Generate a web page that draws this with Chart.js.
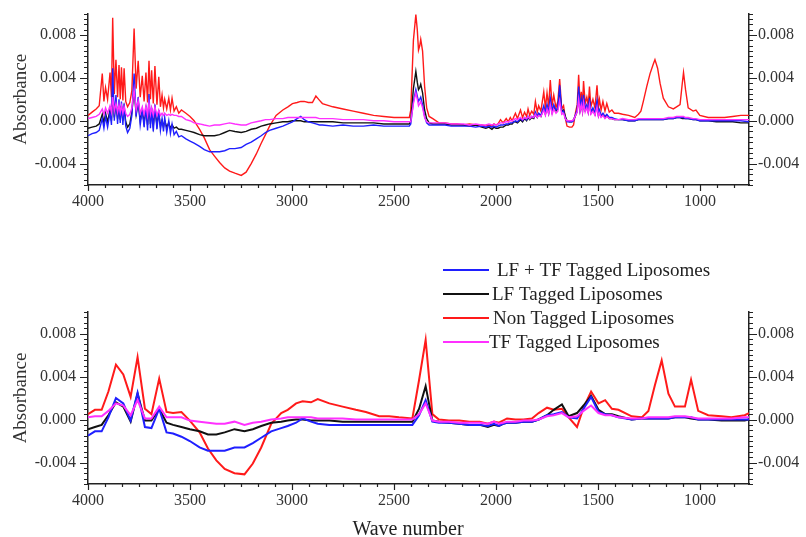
<!DOCTYPE html>
<html>
<head>
<meta charset="utf-8">
<script src="https://cdn.jsdelivr.net/npm/chart.js@4.4.1/dist/chart.umd.min.js"></script>
<style>
  body { margin: 0; background: #fff; }
  .panel { position: absolute; left: 0; width: 806px; }
  #topPanel { top: 0; height: 240px; }
  #bottomPanel { top: 250px; height: 287px; }
</style>
</head>
<body>
<div class="panel" id="topPanel"><canvas id="topChart"></canvas></div>
<div class="panel" id="bottomPanel"><canvas id="bottomChart"></canvas></div>
<script>
// Spectra (full resolution) - wave numbers in cm-1
const topWave = [
  4000, 3980,
  3960, 3945, 3930, 3922, 3914, 3904, 3892, 3885, 3879, 3871, 3863, 3855, 3848, 3842, 3836, 3829, 3823, 3815, 3806, 3795,
  3785, 3774, 3764, 3754, 3744, 3734, 3725, 3716, 3708, 3701, 3694, 3688, 3680, 3672, 3662, 3653, 3645, 3637, 3630, 3624,
  3614, 3604, 3596, 3588, 3578, 3567, 3555, 3542,
  3520, 3500, 3480, 3453, 3430, 3404, 3380, 3355, 3330, 3306, 3280, 3249, 3225, 3200, 3175, 3151, 3130, 3110, 3078, 3045,
  3020, 2998, 2975, 2957, 2940, 2920, 2900, 2883, 2865, 2851, 2800, 2750, 2700, 2650, 2600, 2550, 2500, 2450, 2425,
  2418, 2405, 2393, 2386, 2380, 2374, 2369, 2360, 2350, 2340, 2328, 2310,
  2280, 2250, 2220, 2190, 2160, 2130, 2100, 2070, 2050, 2035, 2020, 2010, 2000,
  1990, 1978, 1965, 1950, 1940, 1930, 1921, 1912, 1905, 1895, 1880, 1870, 1860, 1850, 1843, 1835, 1825, 1815, 1807, 1798,
  1791, 1780, 1766, 1758, 1750, 1742, 1734, 1725, 1717, 1706, 1697, 1688, 1678, 1669, 1660, 1652, 1640, 1628, 1620, 1610,
  1602, 1595, 1588, 1582, 1576, 1571, 1563, 1555, 1548, 1542, 1535, 1525, 1515, 1505, 1498, 1493, 1485, 1476, 1466, 1457,
  1445, 1432, 1420, 1400,
  1380, 1350, 1320, 1302, 1290, 1278, 1261, 1245, 1229, 1221, 1208, 1196, 1180, 1155, 1131, 1115, 1098, 1087, 1081, 1071,
  1058, 1034, 1020, 1001, 960, 920, 880, 840, 800, 760
];

const topLfTf = [
  -0.0014, -0.0012,
  -0.0011, -0.0009, 0.0002, -0.0007, 0.0004, -0.0006, 0.0008, -0.0004, 0.0049, 0.0000, 0.0024, -0.0003, 0.0020, -0.0002, 0.0018, -0.0004, 0.0016, -0.0005, -0.0011, -0.0007,
  0.0005, 0.0044, 0.0004, 0.0022, -0.0004, 0.0010, -0.0006, 0.0014, -0.0009, 0.0025, -0.0007, 0.0012, -0.0010, 0.0015, -0.0008, 0.0010, -0.0009, 0.0002, -0.0010, 0.0003,
  -0.0011, 0.0000, -0.0012, -0.0003, -0.0013, -0.0010, -0.0015, -0.0014,
  -0.0017, -0.0019, -0.0021, -0.0024, -0.0027, -0.0029, -0.0029, -0.0029, -0.0028, -0.0026, -0.0026, -0.0025, -0.0022, -0.0020, -0.0017, -0.0014, -0.0011, -0.0009, -0.0007, -0.0005,
  -0.0003, -0.0001, 0.0002, 0.0004, 0.0001, -0.0001, -0.0002, -0.0003, -0.0004, -0.0004, -0.0005, -0.0004, -0.0005, -0.0005, -0.0004, -0.0005, -0.0005, -0.0005, -0.0005,
  -0.0003, 0.0018, 0.0029, 0.0023, 0.0018, 0.0020, 0.0022, 0.0015, 0.0004, -0.0002, -0.0004, -0.0004,
  -0.0004, -0.0004, -0.0005, -0.0005, -0.0005, -0.0005, -0.0006, -0.0005, -0.0006, -0.0005, -0.0006, -0.0005, -0.0006,
  -0.0005, -0.0004, -0.0004, -0.0003, -0.0003, -0.0002, -0.0002, -0.0001, 0.0000, -0.0001, 0.0002, 0.0000, 0.0003, 0.0001, 0.0004, 0.0002, 0.0004, 0.0003, 0.0008, 0.0004,
  0.0007, 0.0005, 0.0014, 0.0007, 0.0015, 0.0008, 0.0021, 0.0009, 0.0015, 0.0010, 0.0012, 0.0033, 0.0008, 0.0009, 0.0002, -0.0001, -0.0001, -0.0001, 0.0000, 0.0006,
  0.0010, 0.0032, 0.0012, 0.0020, 0.0010, 0.0024, 0.0011, 0.0015, 0.0009, 0.0021, 0.0008, 0.0012, 0.0007, 0.0019, 0.0006, 0.0010, 0.0005, 0.0007, 0.0004, 0.0006,
  0.0003, 0.0003, 0.0002, 0.0001,
  0.0001, 0.0000, 0.0000, 0.0001, 0.0001, 0.0001, 0.0001, 0.0001, 0.0001, 0.0001, 0.0001, 0.0001, 0.0001, 0.0002, 0.0002, 0.0003, 0.0003, 0.0003, 0.0003, 0.0002,
  0.0002, 0.0001, 0.0001, 0.0000, 0.0000, 0.0000, 0.0000, 0.0000, 0.0000, -0.0001
];

const topLf = [
  -0.0007, -0.0006,
  -0.0005, -0.0003, 0.0006, -0.0002, 0.0007, -0.0001, 0.0010, 0.0000, 0.0030, 0.0003, 0.0018, 0.0002, 0.0015, 0.0001, 0.0014, 0.0000, 0.0012, -0.0001, -0.0006, -0.0003,
  0.0008, 0.0030, 0.0006, 0.0018, 0.0000, 0.0009, -0.0002, 0.0011, -0.0004, 0.0018, -0.0003, 0.0009, -0.0005, 0.0011, -0.0004, 0.0007, -0.0005, 0.0000, -0.0006, 0.0000,
  -0.0006, -0.0002, -0.0007, -0.0004, -0.0007, -0.0006, -0.0008, -0.0008,
  -0.0009, -0.0010, -0.0011, -0.0013, -0.0014, -0.0014, -0.0014, -0.0013, -0.0011, -0.0009, -0.0010, -0.0011, -0.0010, -0.0008, -0.0007, -0.0005, -0.0004, -0.0003, -0.0002, -0.0001,
  -0.0001, 0.0000, 0.0000, 0.0000, -0.0001, -0.0001, -0.0001, -0.0001, -0.0001, -0.0001, -0.0001, -0.0002, -0.0002, -0.0002, -0.0002, -0.0003, -0.0003, -0.0003, -0.0003,
  0.0000, 0.0030, 0.0046, 0.0036, 0.0029, 0.0031, 0.0034, 0.0026, 0.0010, 0.0002, -0.0002, -0.0003,
  -0.0003, -0.0003, -0.0004, -0.0004, -0.0004, -0.0005, -0.0004, -0.0006, -0.0007, -0.0006, -0.0008, -0.0006, -0.0007,
  -0.0007, -0.0006, -0.0006, -0.0004, -0.0004, -0.0003, -0.0003, -0.0001, -0.0001, -0.0002, 0.0001, -0.0001, 0.0002, 0.0000, 0.0003, 0.0001, 0.0003, 0.0002, 0.0006, 0.0003,
  0.0006, 0.0004, 0.0012, 0.0006, 0.0013, 0.0007, 0.0018, 0.0008, 0.0013, 0.0009, 0.0011, 0.0028, 0.0009, 0.0010, 0.0004, 0.0000, -0.0001, -0.0001, 0.0001, 0.0005,
  0.0009, 0.0027, 0.0010, 0.0017, 0.0009, 0.0020, 0.0010, 0.0013, 0.0008, 0.0018, 0.0007, 0.0010, 0.0006, 0.0016, 0.0005, 0.0008, 0.0004, 0.0006, 0.0003, 0.0005,
  0.0002, 0.0002, 0.0001, 0.0001,
  0.0001, 0.0000, 0.0000, 0.0001, 0.0001, 0.0001, 0.0001, 0.0001, 0.0001, 0.0001, 0.0001, 0.0001, 0.0001, 0.0002, 0.0002, 0.0003, 0.0003, 0.0002, 0.0002, 0.0002,
  0.0002, 0.0001, 0.0001, 0.0000, 0.0000, -0.0001, -0.0001, -0.0001, -0.0002, -0.0002
];

const topNon = [
  0.0005, 0.0008,
  0.0011, 0.0014, 0.0044, 0.0018, 0.0031, 0.0020, 0.0045, 0.0022, 0.0096, 0.0025, 0.0057, 0.0022, 0.0052, 0.0020, 0.0050, 0.0019, 0.0049, 0.0018, 0.0013, 0.0017,
  0.0028, 0.0086, 0.0030, 0.0056, 0.0022, 0.0042, 0.0018, 0.0045, 0.0017, 0.0056, 0.0020, 0.0047, 0.0016, 0.0051, 0.0015, 0.0041, 0.0013, 0.0024, 0.0012, 0.0020,
  0.0011, 0.0021, 0.0010, 0.0021, 0.0009, 0.0013, 0.0007, 0.0010,
  0.0007, 0.0004, 0.0000, -0.0008, -0.0016, -0.0027, -0.0033, -0.0039, -0.0044, -0.0047, -0.0049, -0.0051, -0.0048, -0.0040, -0.0031, -0.0021, -0.0013, -0.0005, 0.0005, 0.0010,
  0.0013, 0.0016, 0.0017, 0.0018, 0.0018, 0.0017, 0.0017, 0.0023, 0.0019, 0.0016, 0.0013, 0.0011, 0.0009, 0.0007, 0.0005, 0.0004, 0.0003, 0.0003, 0.0003,
  0.0010, 0.0075, 0.0099, 0.0085, 0.0066, 0.0070, 0.0076, 0.0065, 0.0032, 0.0012, 0.0004, 0.0002,
  -0.0002, -0.0002, -0.0003, -0.0003, -0.0004, -0.0003, -0.0004, -0.0004, -0.0005, -0.0004, -0.0005, -0.0003, -0.0004,
  -0.0003, 0.0001, -0.0002, 0.0002, -0.0001, 0.0003, 0.0000, 0.0004, 0.0007, 0.0002, 0.0010, 0.0003, 0.0008, 0.0004, 0.0011, 0.0005, 0.0009, 0.0006, 0.0018, 0.0008,
  0.0014, 0.0009, 0.0027, 0.0012, 0.0026, 0.0013, 0.0038, 0.0014, 0.0024, 0.0012, 0.0018, 0.0039, 0.0011, 0.0014, 0.0002, -0.0005, -0.0006, -0.0006, -0.0004, 0.0008,
  0.0015, 0.0043, 0.0016, 0.0027, 0.0015, 0.0037, 0.0016, 0.0022, 0.0014, 0.0032, 0.0013, 0.0020, 0.0012, 0.0033, 0.0013, 0.0020, 0.0010, 0.0018, 0.0009, 0.0016,
  0.0008, 0.0010, 0.0007, 0.0007,
  0.0006, 0.0005, 0.0003, 0.0006, 0.0009, 0.0018, 0.0032, 0.0044, 0.0053, 0.0057, 0.0049, 0.0035, 0.0021, 0.0013, 0.0011, 0.0013, 0.0015, 0.0035, 0.0045, 0.0029,
  0.0012, 0.0009, 0.0010, 0.0005, 0.0003, 0.0003, 0.0003, 0.0004, 0.0005, 0.0005
];

const topTf = [
  0.0002, 0.0003,
  0.0004, 0.0006, 0.0011, 0.0006, 0.0012, 0.0007, 0.0014, 0.0008, 0.0022, 0.0009, 0.0016, 0.0008, 0.0015, 0.0008, 0.0014, 0.0007, 0.0013, 0.0007, 0.0004, 0.0006,
  0.0012, 0.0029, 0.0010, 0.0019, 0.0007, 0.0013, 0.0006, 0.0014, 0.0005, 0.0017, 0.0006, 0.0012, 0.0005, 0.0013, 0.0005, 0.0010, 0.0005, 0.0007, 0.0005, 0.0007,
  0.0005, 0.0006, 0.0005, 0.0006, 0.0005, 0.0005, 0.0004, 0.0004,
  0.0001, 0.0000, -0.0002, -0.0003, -0.0004, -0.0005, -0.0004, -0.0004, -0.0003, -0.0002, -0.0003, -0.0004, -0.0004, -0.0002, -0.0001, 0.0000, 0.0001, 0.0001, 0.0002, 0.0002,
  0.0003, 0.0003, 0.0003, 0.0003, 0.0003, 0.0003, 0.0003, 0.0003, 0.0002, 0.0002, 0.0002, 0.0001, 0.0001, 0.0001, 0.0000, 0.0000, -0.0001, -0.0001, -0.0001,
  -0.0001, 0.0016, 0.0026, 0.0020, 0.0014, 0.0016, 0.0018, 0.0012, 0.0003, -0.0001, -0.0002, -0.0002,
  -0.0002, -0.0002, -0.0003, -0.0003, -0.0003, -0.0004, -0.0003, -0.0004, -0.0004, -0.0003, -0.0004, -0.0003, -0.0004,
  -0.0003, -0.0002, -0.0002, -0.0001, -0.0001, 0.0000, 0.0000, 0.0001, 0.0002, 0.0001, 0.0003, 0.0001, 0.0003, 0.0002, 0.0004, 0.0002, 0.0004, 0.0003, 0.0006, 0.0003,
  0.0005, 0.0004, 0.0010, 0.0005, 0.0011, 0.0006, 0.0015, 0.0006, 0.0011, 0.0007, 0.0009, 0.0019, 0.0006, 0.0007, 0.0002, 0.0000, 0.0000, 0.0000, 0.0001, 0.0005,
  0.0008, 0.0020, 0.0009, 0.0015, 0.0008, 0.0017, 0.0008, 0.0012, 0.0007, 0.0015, 0.0006, 0.0009, 0.0005, 0.0013, 0.0004, 0.0007, 0.0003, 0.0005, 0.0002, 0.0004,
  0.0002, 0.0002, 0.0001, 0.0001,
  0.0002, 0.0001, 0.0001, 0.0002, 0.0002, 0.0002, 0.0002, 0.0002, 0.0002, 0.0002, 0.0002, 0.0002, 0.0002, 0.0003, 0.0003, 0.0004, 0.0004, 0.0004, 0.0004, 0.0003,
  0.0003, 0.0002, 0.0002, 0.0001, 0.0001, 0.0001, 0.0001, 0.0001, 0.0001, 0.0001
];

// Smoothed spectra (low resolution)
const bottomWave = [
  4000, 3966, 3933, 3900, 3863, 3827, 3791, 3757, 3721, 3689,
  3651, 3615, 3583, 3542, 3501, 3453, 3412, 3371, 3330, 3282,
  3233, 3192, 3151, 3102, 3053, 3021, 2980, 2948, 2907, 2874,
  2817, 2752, 2687, 2638, 2573, 2524, 2476, 2410, 2377, 2345,
  2312, 2280, 2231, 2180, 2130, 2080, 2040, 2010, 1986, 1966,
  1946, 1905, 1865, 1824, 1791, 1750, 1717, 1677, 1644, 1603,
  1571, 1534, 1498, 1465, 1432, 1400, 1335, 1286, 1253, 1221,
  1188, 1155, 1123, 1074, 1044, 1009, 960, 895, 846, 781,
  760
];

const bottomLfTf = [
  -0.0015, -0.0011, -0.0011, 0.0002, 0.0020, 0.0015, -0.0001, 0.0025, -0.0007, -0.0008,
  0.0010, -0.0012, -0.0013, -0.0016, -0.0020, -0.0026, -0.0029, -0.0029, -0.0029, -0.0026,
  -0.0026, -0.0022, -0.0017, -0.0011, -0.0008, -0.0006, -0.0003, 0.0001, -0.0002, -0.0004,
  -0.0005, -0.0005, -0.0005, -0.0005, -0.0005, -0.0005, -0.0005, -0.0005, 0.0004, 0.0018,
  -0.0002, -0.0003, -0.0003, -0.0004, -0.0005, -0.0005, -0.0006, -0.0004, -0.0006, -0.0004,
  -0.0003, -0.0003, -0.0002, -0.0002, 0.0000, 0.0004, 0.0005, 0.0007, 0.0002, 0.0001,
  0.0010, 0.0021, 0.0007, 0.0005, 0.0004, 0.0002, 0.0000, 0.0001, 0.0001, 0.0001,
  0.0001, 0.0001, 0.0002, 0.0002, 0.0002, 0.0000, 0.0000, 0.0000, 0.0000, 0.0000,
  0.0000
];

const bottomLf = [
  -0.0009, -0.0007, -0.0005, 0.0004, 0.0016, 0.0012, -0.0002, 0.0024, -0.0001, -0.0001,
  0.0010, -0.0003, -0.0005, -0.0007, -0.0009, -0.0011, -0.0014, -0.0014, -0.0012, -0.0009,
  -0.0011, -0.0009, -0.0006, -0.0003, -0.0002, -0.0001, 0.0000, 0.0000, -0.0001, -0.0001,
  -0.0001, -0.0002, -0.0002, -0.0002, -0.0002, -0.0002, -0.0002, -0.0002, 0.0010, 0.0031,
  -0.0001, -0.0002, -0.0003, -0.0004, -0.0005, -0.0005, -0.0007, -0.0005, -0.0006, -0.0004,
  -0.0003, -0.0003, -0.0002, -0.0002, 0.0000, 0.0004, 0.0009, 0.0014, 0.0003, 0.0006,
  0.0013, 0.0022, 0.0009, 0.0005, 0.0005, 0.0003, 0.0000, 0.0001, 0.0001, 0.0001,
  0.0001, 0.0001, 0.0002, 0.0002, 0.0001, 0.0000, 0.0000, -0.0001, -0.0001, -0.0001,
  0.0000
];

const bottomNon = [
  0.0005, 0.0009, 0.0009, 0.0026, 0.0051, 0.0042, 0.0021, 0.0058, 0.0010, 0.0005,
  0.0038, 0.0007, 0.0006, 0.0007, -0.0001, -0.0012, -0.0027, -0.0038, -0.0046, -0.0050,
  -0.0051, -0.0041, -0.0026, -0.0004, 0.0006, 0.0009, 0.0015, 0.0017, 0.0016, 0.0019,
  0.0015, 0.0012, 0.0009, 0.0007, 0.0003, 0.0003, 0.0002, 0.0001, 0.0037, 0.0074,
  0.0005, 0.0000, -0.0001, -0.0001, -0.0002, -0.0002, -0.0004, -0.0002, -0.0003, -0.0001,
  0.0001, 0.0000, 0.0000, 0.0001, 0.0006, 0.0011, 0.0009, 0.0010, 0.0002, -0.0007,
  0.0011, 0.0026, 0.0015, 0.0018, 0.0010, 0.0009, 0.0003, 0.0002, 0.0008, 0.0032,
  0.0055, 0.0024, 0.0012, 0.0012, 0.0037, 0.0008, 0.0004, 0.0003, 0.0002, 0.0004,
  0.0006
];

const bottomTf = [
  0.0002, 0.0003, 0.0003, 0.0008, 0.0015, 0.0013, 0.0004, 0.0018, 0.0001, 0.0001,
  0.0012, 0.0002, 0.0002, 0.0002, -0.0001, -0.0002, -0.0003, -0.0004, -0.0004, -0.0002,
  -0.0005, -0.0003, -0.0002, 0.0000, 0.0001, 0.0002, 0.0002, 0.0002, 0.0002, 0.0001,
  0.0001, 0.0001, 0.0000, 0.0000, 0.0000, 0.0000, 0.0000, 0.0000, 0.0005, 0.0015,
  -0.0001, -0.0002, -0.0002, -0.0003, -0.0003, -0.0003, -0.0004, -0.0002, -0.0004, -0.0003,
  -0.0002, -0.0002, -0.0001, -0.0001, 0.0000, 0.0003, 0.0004, 0.0006, 0.0002, 0.0003,
  0.0008, 0.0013, 0.0006, 0.0004, 0.0004, 0.0002, 0.0001, 0.0001, 0.0002, 0.0002,
  0.0002, 0.0002, 0.0003, 0.0003, 0.0002, 0.0001, 0.0001, 0.0001, 0.0001, 0.0002,
  0.0002
];

const seriesLabels = ['LF + TF Tagged Liposomes', 'LF Tagged Liposomes', 'Non Tagged Liposomes', 'TF Tagged Liposomes'];
const seriesColors = ['#1f1fff', '#111111', '#ff1a1a', '#ff30ff'];
const drawOrder = [1, 2, 3, 0]; // red at the back, magenta on top

const xMajorTicks = [4000, 3500, 3000, 2500, 2000, 1500, 1000];
const yMajorTicks = [-0.004, 0, 0.004, 0.008];

const FONT = "'Liberation Serif', 'Times New Roman', serif";
const INK = '#333';

function pairs(xs, ys) {
  return xs.map((x, i) => ({ x: x, y: ys[i] }));
}

// outward tick marks: x every 500/6, y every 0.0005
const axisTicks = {
  id: 'axisTicks',
  afterDraw(chart) {
    const { ctx, chartArea: a } = chart;
    const x = chart.scales.x, y = chart.scales.y;
    ctx.save();
    ctx.strokeStyle = '#222';
    ctx.lineWidth = 1.2;
    ctx.beginPath();
    for (let i = 0; ; i++) {
      const v = x.max - i * 500 / 6;
      if (v < x.min) break;
      const px = Math.round(x.getPixelForValue(v)) + 0.5;
      ctx.moveTo(px, a.bottom);
      ctx.lineTo(px, a.bottom + (i % 6 === 0 ? 6 : 3));
    }
    for (let k = -12; k <= 20; k++) {
      const py = Math.round(y.getPixelForValue(k * 0.0005)) + 0.5;
      const len = k % 8 === 0 ? 8 : 4;
      ctx.moveTo(a.left, py); ctx.lineTo(a.left - len, py);
      ctx.moveTo(a.right, py); ctx.lineTo(a.right + len, py);
    }
    ctx.stroke();
    ctx.restore();
  }
};

// legend and x-axis title of the lower panel
const lowerDecor = {
  id: 'lowerDecor',
  afterDraw(chart, args, opts) {
    const ctx = chart.ctx;
    ctx.save();
    ctx.font = '19px ' + FONT;
    ctx.textBaseline = 'middle';
    ctx.fillStyle = '#222';
    seriesLabels.forEach((label, i) => {
      const ly = opts.legendY[i];
      ctx.strokeStyle = seriesColors[i];
      ctx.lineWidth = 2;
      ctx.beginPath();
      ctx.moveTo(443, ly);
      ctx.lineTo(489, ly);
      ctx.stroke();
      ctx.fillText(label, opts.legendTextX[i], ly + 1);
    });
    ctx.font = '20px ' + FONT;
    ctx.textAlign = 'center';
    ctx.textBaseline = 'alphabetic';
    ctx.fillText('Wave number', 408, 285);
    ctx.restore();
  }
};

function makeChart(canvasId, waves, values, cfg) {
  const datasets = values.map((vals, i) => ({
    label: seriesLabels[i],
    data: pairs(waves, vals),
    borderColor: seriesColors[i],
    borderWidth: cfg.lineWidth,
    pointRadius: 0,
    tension: 0,
    order: drawOrder[i]
  }));

  const yScale = (pos) => ({
    type: 'linear',
    position: pos,
    min: -0.006,
    max: 0.010,
    afterBuildTicks: s => { s.ticks = yMajorTicks.map(v => ({ value: v })); },
    afterFit: s => { s.width = pos === 'left' ? 88 : 57; },
    grid: { display: false, drawTicks: true, tickLength: 8 },
    border: { display: true, color: '#222', width: 1.5 },
    ticks: {
      padding: pos === 'left' ? 4 : 1,
      color: INK,
      font: { family: FONT, size: 16 },
      callback: v => v.toFixed(3)
    },
    title: {
      display: pos === 'left',
      text: 'Absorbance',
      color: INK,
      font: { family: FONT, size: 19, lineHeight: 1 },
      padding: { top: 12, bottom: 0 }
    }
  });

  return new Chart(document.getElementById(canvasId), {
    type: 'line',
    data: { datasets: datasets },
    options: {
      responsive: true,
      maintainAspectRatio: false,
      animation: false,
      layout: { padding: { top: cfg.areaTop, left: 0, right: 0, bottom: 0 } },
      plugins: {
        legend: { display: false },
        tooltip: { enabled: false },
        lowerDecor: cfg.decor || false
      },
      scales: {
        x: {
          type: 'linear',
          reverse: true,
          min: 760,
          max: 4000,
          afterBuildTicks: s => { s.ticks = xMajorTicks.map(v => ({ value: v })); },
          afterFit: s => { s.height = cfg.height - cfg.areaBottom; },
          grid: { display: false, drawTicks: true, tickLength: 6 },
          border: { display: true, color: '#222', width: 1.5 },
          ticks: {
            padding: 1,
            maxRotation: 0,
            autoSkip: false,
            color: INK,
            font: { family: FONT, size: 16 },
            callback: v => String(v)
          }
        },
        y: yScale('left'),
        yRight: yScale('right')
      }
    },
    plugins: cfg.decor ? [axisTicks, lowerDecor] : [axisTicks]
  });
}

makeChart('topChart', topWave, [topLfTf, topLf, topNon, topTf], {
  height: 240, areaTop: 12, areaBottom: 185, lineWidth: 1.4
});

makeChart('bottomChart', bottomWave, [bottomLfTf, bottomLf, bottomNon, bottomTf], {
  height: 287, areaTop: 62, areaBottom: 234, lineWidth: 2,
  decor: { legendY: [20, 44, 68, 92], legendTextX: [497, 492, 493, 489] }
});
</script>
</body>
</html>
